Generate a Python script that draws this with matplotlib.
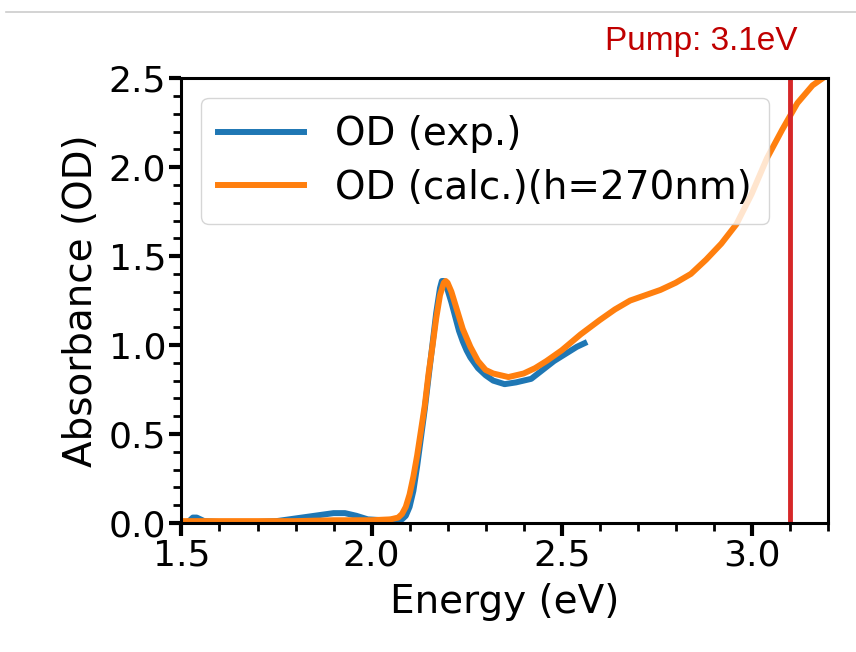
import numpy as np
import matplotlib
matplotlib.use('Agg')
import matplotlib.pyplot as plt
from matplotlib.lines import Line2D
from matplotlib.ticker import MultipleLocator

# calculated OD (h=270nm)
energy_calc = [1.50, 1.60, 1.70, 1.80, 1.90, 2.00, 2.05, 2.07, 2.08, 2.09,
               2.10, 2.11, 2.12, 2.13, 2.14, 2.15, 2.16, 2.17, 2.18, 2.19,
               2.195, 2.20, 2.21, 2.22, 2.23, 2.24, 2.25, 2.26, 2.27, 2.28,
               2.30, 2.32, 2.34, 2.36, 2.38, 2.40, 2.43, 2.46, 2.50, 2.55,
               2.60, 2.64, 2.68, 2.72, 2.76, 2.80, 2.84, 2.88, 2.92, 2.96,
               3.00, 3.04, 3.08, 3.12, 3.16, 3.20]
od_calc = [0.01, 0.01, 0.01, 0.01, 0.015, 0.015, 0.02, 0.03, 0.05, 0.09,
           0.16, 0.26, 0.38, 0.52, 0.66, 0.84, 0.99, 1.15, 1.28, 1.35,
           1.36, 1.35, 1.30, 1.23, 1.16, 1.09, 1.04, 0.99, 0.95, 0.91,
           0.86, 0.84, 0.83, 0.82, 0.83, 0.84, 0.87, 0.91, 0.97, 1.06,
           1.14, 1.20, 1.25, 1.28, 1.31, 1.35, 1.40, 1.48, 1.57, 1.68,
           1.85, 2.05, 2.21, 2.36, 2.46, 2.52]

# experimental OD
energy_exp = [1.52, 1.53, 1.54, 1.56, 1.60, 1.70, 1.75, 1.80, 1.85, 1.90,
              1.93, 1.96, 1.99, 2.03, 2.08, 2.09, 2.10, 2.11, 2.12, 2.13,
              2.14, 2.15, 2.16, 2.17, 2.18, 2.185, 2.19, 2.20, 2.21, 2.22,
              2.23, 2.24, 2.25, 2.26, 2.28, 2.30, 2.32, 2.35, 2.38, 2.42,
              2.45, 2.48, 2.51, 2.54, 2.56]
od_exp = [0.01, 0.03, 0.03, 0.01, 0.005, 0.005, 0.01, 0.025, 0.04, 0.055,
          0.055, 0.04, 0.02, 0.015, 0.02, 0.04, 0.09, 0.18, 0.32, 0.48,
          0.64, 0.82, 1.00, 1.18, 1.32, 1.36, 1.36, 1.31, 1.24, 1.16,
          1.08, 1.02, 0.97, 0.93, 0.87, 0.83, 0.80, 0.78, 0.79, 0.81,
          0.86, 0.91, 0.95, 0.99, 1.01]

pump = 3.1

fig = plt.figure(figsize=(8.56, 6.52), dpi=100)
ax = fig.add_axes([0.212, 0.198, 0.755, 0.682])

ax.plot(energy_exp, od_exp, color='#1f77b4', lw=4.3, label='OD (exp.)')
ax.plot(energy_calc, od_calc, color='#ff7f0e', lw=4.3, label='OD (calc.)(h=270nm)')
ax.axvline(pump, color='#d62728', lw=3.5)

ax.set_xlim(1.5, 3.2)
ax.set_ylim(0, 2.5)
ax.xaxis.set_major_locator(MultipleLocator(0.5))
ax.xaxis.set_minor_locator(MultipleLocator(0.1))
ax.yaxis.set_major_locator(MultipleLocator(0.5))
ax.yaxis.set_minor_locator(MultipleLocator(0.1))
ax.tick_params(which='major', length=9, width=3, labelsize=26, pad=2)
ax.tick_params(which='minor', length=6, width=2)
for s in ax.spines.values():
    s.set_linewidth(2.2)

ax.set_xlabel('Energy (eV)', fontsize=28, labelpad=8)
ax.set_ylabel('Absorbance (OD)', fontsize=28, labelpad=6)

ax.legend(loc='upper left', fontsize=28, handlelength=2.2, borderpad=0.45,
          labelspacing=0.4, handletextpad=0.8)

fig.text(0.819, 0.936, 'Pump: 3.1eV', color='#c00000', fontsize=24,
         family='Liberation Sans', ha='center', va='center')
fig.add_artist(Line2D([6 / 856, 1], [1 - 12 / 652, 1 - 12 / 652],
                      color='#cccccc', lw=1.2))

fig.savefig('out.png', dpi=100)
